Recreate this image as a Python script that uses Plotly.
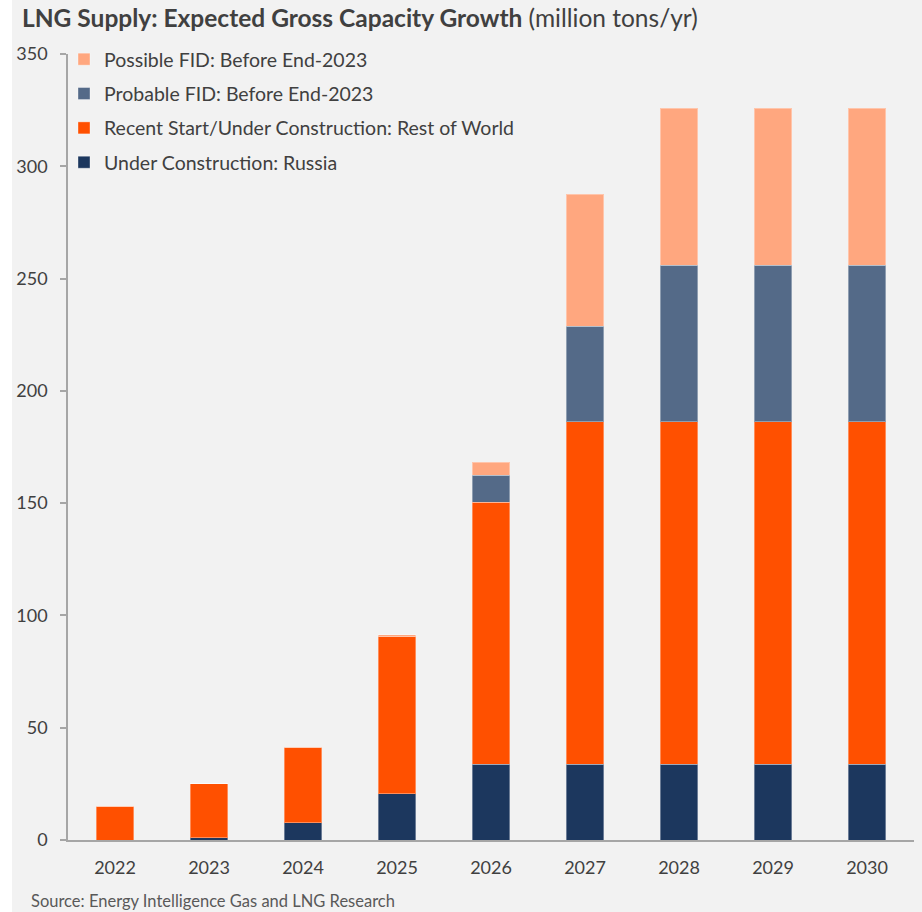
import plotly.graph_objects as go

# LNG supply capacity by year (million tons/yr), stacked by project status
years = ["2022", "2023", "2024", "2025", "2026", "2027", "2028", "2029", "2030"]
russia = [0.0, 1.0, 7.7, 20.6, 33.8, 33.8, 33.8, 33.8, 33.8]
rest_of_world = [15.0, 24.0, 33.6, 69.8, 116.5, 152.5, 152.5, 152.5, 152.5]
probable_fid = [0.0, 0.0, 0.0, 0.0, 12.2, 42.5, 69.7, 69.7, 69.7]
possible_fid = [0.0, 0.0, 0.0, 1.0, 5.8, 58.8, 69.9, 69.9, 69.9]

series_names = [
    "Under Construction: Russia",
    "Recent Start/Under Construction: Rest of World",
    "Probable FID: Before End-2023",
    "Possible FID: Before End-2023",
]
series_values = [russia, rest_of_world, probable_fid, possible_fid]
series_colors = ["#1C375E", "#FF5000", "#546A88", "#FFA77F"]

W, H = 922, 912
ML, MR, MT, MB = 68, 8, 54, 72
plot_w = W - ML - MR
plot_h = H - MT - MB


def px_x(px):
    return (px - ML) / plot_w


def px_y(py):
    return (H - MB - py) / plot_h


TEXT = "#404040"
AXIS = "#A6A6A6"
FONT = "Lato"

fig = go.Figure()
n = len(series_names)
for i, (name, vals, col) in enumerate(zip(series_names, series_values, series_colors)):
    fig.add_trace(go.Bar(
        x=years, y=vals, name=name, legendgroup=f"g{i}",
        legendrank=1000 + (n - i),  # top of the stack listed first
        marker=dict(color=col, line=dict(color="rgba(255,255,255,0.35)", width=1)),
        hoverinfo="x+y+name",
    ))

fig.update_layout(
    width=W, height=H,
    margin=dict(l=ML, r=MR, t=MT, b=MB, pad=0),
    barmode="stack",
    bargap=0.596,
    paper_bgcolor="white",
    plot_bgcolor="rgba(0,0,0,0)",
    font=dict(family=FONT, color=TEXT),
    title=dict(
        text="<b>LNG Supply: Expected Gross Capacity Growth</b> (million tons/yr)",
        x=22 / W, xref="container", xanchor="left",
        y=1 - 18 / H, yref="container", yanchor="middle",
        font=dict(family=FONT, size=24.5, color=TEXT),
    ),
    legend=dict(
        traceorder="grouped",
        x=px_x(64), xanchor="left",
        y=px_y(40), yanchor="top",
        bgcolor="rgba(0,0,0,0)",
        font=dict(family=FONT, size=19.5, color=TEXT),
        tracegroupgap=6,
    ),
    xaxis=dict(
        showline=True, linecolor=AXIS, linewidth=1.5,
        ticks="", showgrid=False,
        tickfont=dict(family=FONT, size=18, color=TEXT),
        ticklabelstandoff=11,
    ),
    yaxis=dict(
        range=[0, 350], dtick=50,
        showline=True, linecolor=AXIS, linewidth=1.5,
        ticks="outside", ticklen=6, tickcolor=AXIS, tickwidth=1.5,
        showgrid=False, zeroline=False,
        tickfont=dict(family=FONT, size=18, color=TEXT),
        ticklabelstandoff=9,
    ),
    shapes=[dict(
        type="rect", xref="paper", yref="paper", layer="below",
        x0=px_x(12), x1=px_x(W), y0=px_y(H), y1=px_y(0),
        fillcolor="#F2F2F2", line=dict(width=0),
    )],
    annotations=[dict(
        text="Source: Energy Intelligence Gas and LNG Research",
        xref="paper", yref="paper",
        x=px_x(29), y=px_y(901), xanchor="left", yanchor="middle",
        showarrow=False,
        font=dict(family=FONT, size=16.5, color="#595959"),
    )],
)

fig.write_html("out.html")
